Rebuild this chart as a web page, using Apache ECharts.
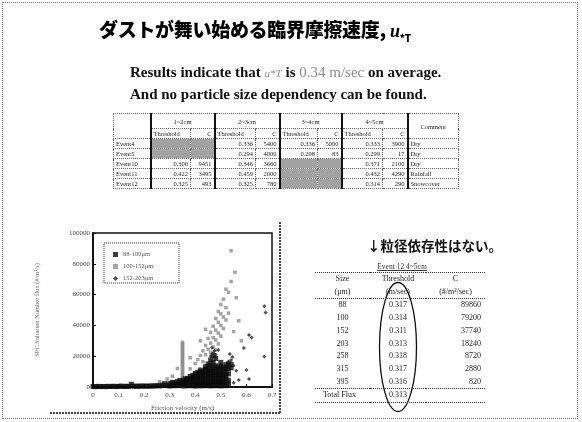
<!DOCTYPE html>
<html>
<head>
<meta charset="utf-8">
<script src="https://cdn.jsdelivr.net/npm/echarts@6/dist/echarts.min.js"></script>
<style>
  html, body { margin: 0; padding: 0; background: #fff; }
  #page { position: relative; width: 582px; height: 422px; overflow: hidden; background: #fff; }
  #chart { position: absolute; left: 0; top: 0; width: 582px; height: 422px; }
  .frame { position: absolute; left: 2px; top: 2px; width: 574px; height: 415px; border: 1px dotted #777; }
  .title { position: absolute; left: 99px; top: 15px; font-family: "Noto Sans CJK JP", sans-serif; font-weight: 900; font-size: 19px; color: #000; white-space: nowrap; letter-spacing: -0.3px; }
  .title i { font-family: "Liberation Serif", serif; font-weight: bold; font-size: 18px; }
  .title sub { font-size: 10px; font-style: normal; }
  .sub { position: absolute; left: 130px; font-family: "Liberation Serif", serif; font-weight: bold; font-size: 15px; color: #111; white-space: nowrap; }
  .sub .hl { color: #8a8a8a; font-weight: normal; }
  .sub .u { font-style: italic; font-size: 11px; color: #8a8a8a; font-weight: normal; }
  table { border-collapse: collapse; font-family: "Liberation Serif", serif; color: #222; }
  #events { position: absolute; left: 113px; top: 113px; font-size: 6.5px; table-layout: fixed; border: 1px dotted #444; }
  #events td { border: 1px dotted #666; padding: 0 2px; height: 9px; line-height: 9px; white-space: nowrap; overflow: hidden; }
  #events td.grp { border-left: 2px solid #111; }
  #events td.num { text-align: right; }
  #events td.gray { background: #a2a2a2; }
  #events tr.h1 td { height: 14px; text-align: center; }
  #events td.ev, #events td.cm { text-align: left; }
  .rt-title { position: absolute; left: 367px; top: 235px; font-family: "Noto Sans CJK JP", sans-serif; font-weight: bold; font-size: 13.5px; color: #111; white-space: nowrap; }
  .rt-cap { position: absolute; left: 366px; top: 262px; width: 72px; text-align: center; font-family: "Liberation Serif", serif; font-size: 7.5px; text-decoration: underline; color: #333; }
  #sizes { position: absolute; left: 315px; top: 272px; width: 170px; font-size: 8px; table-layout: fixed; }
  #sizes td { padding: 0; height: 12.7px; line-height: 12.7px; white-space: nowrap; overflow: visible; }
  #sizes td.c1, #sizes td.c2 { text-align: center; }
  #sizes td.c3 { text-align: right; padding-right: 4px; }
  #sizes tr.top td { border-top: 1px dotted #333; }
  #sizes tr.sep td { border-bottom: 1px dotted #333; }
  #sizes tr.total td { border-top: 1px dotted #333; border-bottom: 1px dotted #333; height: 13px; }
  #sizes tr.total td.c1 { text-align: left; padding-left: 8px; }
</style>
</head>
<body>
<div id="page">
  <div id="chart"></div>
  <div class="frame"></div>
  <div class="title">ダストが舞い始める臨界摩擦速度, <i>u</i><sub>*T</sub></div>
  <div class="sub" style="top:64px">Results indicate that <span class="u">u*T</span> is <span class="hl">0.34 m/sec</span> on average.</div>
  <div class="sub" style="top:86px">And no particle size dependency can be found.</div>
  <table id="events"></table>
  <div class="rt-title">↓粒径依存性はない。</div>
  <div class="rt-cap">Event 12 4~5cm</div>
  <table id="sizes"></table>
</div>
<script>
// ---- Event table: thresholds (m/sec) and C for each depth range ----
const depthGroups = ['1~2cm', '2~3cm', '3~4cm', '4~5cm'];
const eventNames = ['Event4', 'Event5', 'Event10', 'Event11', 'Event12'];
const eventThreshold = [
  [null, 0.336, 0.336, 0.333],
  [null, 0.294, 0.298, 0.299],
  [0.300, 0.346, null, 0.371],
  [0.422, 0.459, null, 0.432],
  [0.325, 0.325, null, 0.314]
];
const eventC = [
  [null, 5400, 5000, 3900],
  [null, 4000, 83, 17],
  [9451, 3660, null, 2100],
  [3495, 2000, null, 4290],
  [493, 780, null, 290]
];
const eventComments = ['Dry', 'Dry', 'Dry', 'Rainfall', 'Snowcover'];

// ---- Event 12 table by particle size ----
const sizeLabels = ['88', '100', '152', '203', '258', '315', '395'];
const sizeThreshold = ['0.317', '0.314', '0.311', '0.313', '0.318', '0.317', '0.316'];
const sizeC = ['89860', '79200', '37740', '18240', '8720', '2880', '820'];
const totalFluxThreshold = '0.313';

// ---- Scatter: flux vs friction velocity for three size bins ----
const binNames = ['88-100μm', '100-152μm', '152-203μm'];
const fluxBin1 = [
  [0.00,300],[0.01,200],[0.02,400],[0.03,250],[0.04,350],[0.05,200],[0.06,450],[0.07,300],[0.08,500],[0.09,250],
  [0.10,400],[0.11,600],[0.12,300],[0.13,500],[0.14,350],[0.15,1800],[0.16,450],[0.17,600],[0.18,400],[0.19,700],
  [0.20,500],[0.21,650],[0.22,450],[0.23,800],[0.24,600],[0.25,900],[0.26,700],[0.27,1200],[0.28,2200],[0.29,1000],
  [0.30,600],[0.30,2200],[0.31,1200],[0.31,3000],[0.32,800],[0.32,2600],[0.33,1500],[0.33,3500],[0.34,900],[0.34,2800],
  [0.34,4300],[0.35,1600],[0.35,3600],[0.36,700],[0.36,2400],[0.36,4200],[0.36,5400],[0.37,1300],[0.37,3300],[0.37,5600],
  [0.38,800],[0.38,2700],[0.38,4700],[0.38,6800],[0.39,1500],[0.39,3600],[0.39,5800],[0.39,7600],[0.40,600],[0.40,2500],
  [0.40,4500],[0.40,6600],[0.40,8800],[0.41,1400],[0.41,3500],[0.41,5700],[0.41,7800],[0.41,9600],[0.42,700],[0.42,2600],
  [0.42,4700],[0.42,6900],[0.42,9000],[0.42,11000],[0.43,1500],[0.43,3600],[0.43,5800],[0.43,8000],[0.43,10200],[0.44,800],
  [0.44,2700],[0.44,4800],[0.44,7000],[0.44,9200],[0.44,11500],[0.44,13200],[0.45,1600],[0.45,3700],[0.45,5900],[0.45,8100],
  [0.45,10300],[0.45,12400],[0.45,15000],[0.46,700],[0.46,2600],[0.46,4700],[0.46,6900],[0.46,9100],[0.46,11300],[0.46,14000],
  [0.46,17500],[0.47,1500],[0.47,3600],[0.47,5800],[0.47,8000],[0.47,10200],[0.47,12600],[0.47,16000],[0.47,20500],[0.48,800],
  [0.48,2800],[0.48,4900],[0.48,7100],[0.48,9300],[0.48,11600],[0.48,13800],[0.48,18500],[0.49,1600],[0.49,3700],[0.49,5900],
  [0.49,8100],[0.49,10400],[0.49,12800],[0.50,700],[0.50,2700],[0.50,4800],[0.50,7000],[0.50,9200],[0.50,11500],[0.50,13600],
  [0.50,16000],[0.51,1500],[0.51,3600],[0.51,5800],[0.51,8000],[0.51,10300],[0.51,12700],[0.52,800],[0.52,2900],[0.52,5000],
  [0.52,7300],[0.52,9600],[0.52,12000],[0.52,14500],[0.53,1800],[0.53,4200],[0.53,8500],[0.53,11800],[0.53,15000],[0.54,12500],
  [0.54,14800]
];
const fluxBin2 = [
  [0.35,0],[0.35,1000],[0.35,2000],[0.35,3000],[0.35,4000],[0.35,5000],[0.35,6000],[0.35,7000],[0.35,8000],[0.35,9000],
  [0.35,10000],[0.35,11000],[0.35,12000],[0.35,13000],[0.35,14000],[0.35,15000],[0.35,16000],[0.35,17000],[0.35,18000],[0.35,19000],
  [0.35,20000],[0.35,21000],[0.35,22000],[0.35,23000],[0.35,24000],[0.35,25000],[0.35,26000],[0.35,27000],[0.35,28000],[0.35,29000],
  [0.26,3500],[0.29,5200],[0.31,7000],[0.33,12000],[0.38,11800],[0.38,19000],[0.40,15200],[0.41,17800],[0.42,20500],[0.42,30000],
  [0.43,16500],[0.43,23500],[0.44,21000],[0.44,27000],[0.44,37500],[0.45,24500],[0.45,31500],[0.46,22500],[0.46,28500],[0.46,35500],
  [0.47,26000],[0.47,32000],[0.47,39500],[0.48,24000],[0.48,30500],[0.48,37000],[0.48,44500],[0.49,28000],[0.49,35000],[0.49,42000],
  [0.49,49000],[0.50,33000],[0.50,40000],[0.50,47500],[0.50,53500],[0.51,38000],[0.51,45500],[0.51,57000],[0.52,43500],[0.52,51500],
  [0.52,63500],[0.53,48000],[0.53,61500],[0.54,68500],[0.54,88500],[0.555,74500],[0.56,58000],[0.57,43000],[0.55,36000],[0.58,30000]
];
const fluxBin3 = [
  [0.60,11000],[0.61,5200],[0.59,25300],[0.61,33800],[0.62,32200],[0.67,52500],[0.675,48300],[0.67,19800],
  [0.53,16500],[0.54,17500],[0.55,13800],[0.56,10500],[0.545,19500],[0.535,21500],[0.55,2800],[0.57,4500],
  [0.47,22000],[0.48,21000],[0.46,20000],[0.49,24000],[0.475,23500],[0.465,25500]
];
const xTicks = ['0', '0.1', '0.2', '0.3', '0.4', '0.5', '0.6', '0.7'];
const yTicks = ['0', '20000', '40000', '60000', '80000', '100000'];

// Build the event table
(function () {
  const t = document.getElementById('events');
  let cols = '<colgroup><col style="width:37px">';
  const widths = [[40,24],[41,24],[38,24],[41,25]];
  widths.forEach(w => { cols += `<col style="width:${w[0]}px"><col style="width:${w[1]}px">`; });
  cols += '<col style="width:51px"></colgroup>';
  let html = cols + '<tr class="h1"><td rowspan="2"></td>';
  depthGroups.forEach(g => { html += `<td colspan="2" class="grp">${g}</td>`; });
  html += '<td rowspan="2" class="grp" style="text-align:center">Comment</td></tr><tr>';
  depthGroups.forEach(() => { html += '<td class="grp">Threshold</td><td class="num">C</td>'; });
  html += '</tr>';
  eventNames.forEach((ev, r) => {
    html += `<tr><td class="ev">${ev}</td>`;
    depthGroups.forEach((g, k) => {
      const th = eventThreshold[r][k];
      if (th === null) {
        html += '<td class="grp gray"></td><td class="gray"></td>';
      } else {
        html += `<td class="grp num">${th.toFixed(3)}</td><td class="num">${eventC[r][k]}</td>`;
      }
    });
    html += `<td class="grp cm">${eventComments[r]}</td></tr>`;
  });
  t.innerHTML = html;
})();

// Build the size table
(function () {
  const t = document.getElementById('sizes');
  let html = '<colgroup><col style="width:55px"><col style="width:56px"><col style="width:59px"></colgroup>';
  html += '<tr class="top"><td class="c1">Size</td><td class="c2">Threshold</td><td class="c2">C</td></tr>';
  html += '<tr class="sep"><td class="c1">(μm)</td><td class="c2">(m/sec)</td><td class="c2">(#/m²/sec)</td></tr>';
  sizeLabels.forEach((s, i) => {
    html += `<tr><td class="c1">${s}</td><td class="c2">${sizeThreshold[i]}</td><td class="c3">${sizeC[i]}</td></tr>`;
  });
  html += `<tr class="total"><td class="c1">Total Flux</td><td class="c2">${totalFluxThreshold}</td><td class="c3"></td></tr>`;
  t.innerHTML = html;
})();

// Scatter plot
const chart = echarts.init(document.getElementById('chart'), null, { renderer: 'canvas' });
const axisFont = { fontFamily: 'Liberation Serif', fontSize: 7, color: '#444' };
chart.setOption({
  animation: false,
  backgroundColor: 'transparent',
  grid: { left: 93, top: 233, width: 179, height: 154, show: true, borderColor: '#111', borderWidth: 1.5, backgroundColor: 'transparent' },
  legend: {
    left: 108, top: 246, orient: 'vertical', itemGap: 5, itemWidth: 5, itemHeight: 5,
    textStyle: { fontFamily: 'Liberation Serif', fontSize: 6.5, color: '#555' },
    data: binNames
  },
  xAxis: {
    type: 'value', min: 0, max: 0.7, interval: 0.1,
    name: 'Friction velocity (m/s)', nameLocation: 'middle', nameGap: 18,
    nameTextStyle: { fontFamily: 'Liberation Serif', fontSize: 7, color: '#555' },
    axisLine: { lineStyle: { color: '#111', width: 2 } },
    axisTick: { inside: true, length: 3, lineStyle: { color: '#111' } },
    axisLabel: Object.assign({ margin: 5, formatter: (v, i) => xTicks[i] }, axisFont),
    splitLine: { show: false }
  },
  yAxis: {
    type: 'value', min: 0, max: 100000, interval: 20000,
    name: 'SPC Saltation Number flux (#/m²/s)', nameLocation: 'middle', nameGap: 52,
    nameTextStyle: { fontFamily: 'Liberation Serif', fontSize: 6.5, color: '#666' },
    axisLine: { lineStyle: { color: '#111', width: 2 } },
    axisTick: { inside: true, length: 3, lineStyle: { color: '#111' } },
    axisLabel: Object.assign({ margin: 3, formatter: (v, i) => yTicks[i] }, axisFont),
    splitLine: { show: false }
  },
  series: [
    { name: binNames[0], type: 'scatter', data: fluxBin1, symbol: 'rect', symbolSize: 5, itemStyle: { color: '#0a0a0a' }, z: 3 },
    { name: binNames[1], type: 'scatter', data: fluxBin2, symbol: 'rect', symbolSize: 3.5, itemStyle: { color: '#8c8c8c' }, z: 2 },
    { name: binNames[2], type: 'scatter', data: fluxBin3, symbol: 'diamond', symbolSize: 4, itemStyle: { color: '#222' }, z: 4 }
  ],
  graphic: [
    { type: 'rect', shape: { x: 104, y: 243, width: 75, height: 40 }, style: { fill: 'none', stroke: '#333', lineWidth: 1, lineDash: [1, 1] }, z: 10 },
    { type: 'line', shape: { x1: 50, y1: 413, x2: 280, y2: 413 }, style: { stroke: '#444', lineWidth: 2, lineDash: [2, 1] } },
    { type: 'line', shape: { x1: 280, y1: 222, x2: 280, y2: 413 }, style: { stroke: '#444', lineWidth: 2, lineDash: [2, 1] } },
    { type: 'ellipse', shape: { cx: 398, cy: 347, rx: 18.5, ry: 64.5 }, style: { fill: 'none', stroke: '#111', lineWidth: 1.3 }, z: 20 }
  ]
});
</script>
</body>
</html>
